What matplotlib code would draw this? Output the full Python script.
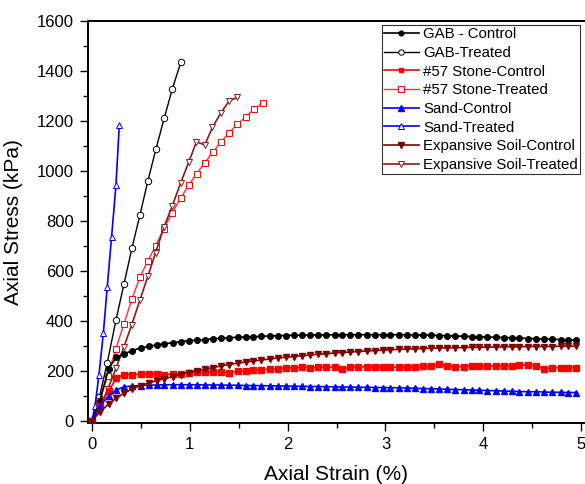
import matplotlib
matplotlib.use("Agg")
import matplotlib.pyplot as plt

plt.rcParams['font.family'] = ['Liberation Sans', 'DejaVu Sans']

# ---------------- data ----------------
strain_ctrl = [0.00, 0.08, 0.17, 0.25, 0.33, 0.41, 0.50, 0.58, 0.66, 0.74,
               0.83, 0.91, 0.99, 1.07, 1.16, 1.24, 1.32, 1.40, 1.49, 1.57,
               1.65, 1.73, 1.82, 1.90, 1.98, 2.06, 2.15, 2.23, 2.31, 2.39,
               2.48, 2.56, 2.64, 2.72, 2.81, 2.89, 2.97, 3.05, 3.14, 3.22,
               3.30, 3.38, 3.47, 3.55, 3.63, 3.71, 3.80, 3.88, 3.96, 4.04,
               4.13, 4.21, 4.29, 4.37, 4.46, 4.54, 4.62, 4.70, 4.79, 4.87,
               4.95]

gab_control = [0, 80, 210, 255, 268, 282, 292, 299, 304, 309,
               313, 318, 321, 324, 326, 329, 331, 333, 335, 336,
               337, 339, 340, 341, 342, 343, 343, 344, 344, 344,
               345, 345, 345, 345, 345, 345, 345, 345, 345, 345,
               344, 344, 343, 342, 341, 340, 339, 338, 337, 336,
               335, 334, 333, 332, 330, 329, 328, 327, 326, 324,
               323]

stone_control = [0, 60, 120, 172, 186, 186, 187, 188, 189, 186,
                 188, 189, 193, 195, 196, 198, 197, 193, 199, 201,
                 203, 205, 207, 209, 212, 213, 215, 213, 215, 216,
                 215, 208, 216, 217, 216, 217, 216, 217, 215, 217,
                 218, 219, 220, 228, 220, 216, 218, 221, 221, 220,
                 220, 221, 222, 225, 224, 220, 210, 213, 214, 214,
                 214]

sand_control = [0, 60, 100, 125, 137, 140, 142, 143, 144, 145,
                145, 145, 145, 145, 144, 144, 144, 143, 143, 142,
                142, 141, 141, 140, 140, 139, 139, 138, 138, 137,
                137, 136, 136, 135, 135, 134, 134, 133, 133, 132,
                131, 130, 129, 128, 127, 126, 125, 124, 123, 122,
                121, 120, 119, 118, 117, 117, 116, 115, 115, 114,
                114]

exp_control = [0, 36, 68, 92, 112, 128, 142, 152, 161, 170,
               178, 186, 194, 201, 208, 214, 220, 226, 231, 236,
               240, 244, 248, 252, 255, 258, 261, 264, 267, 269,
               272, 274, 276, 278, 280, 282, 284, 285, 287, 288,
               289, 290, 291, 292, 293, 293, 294, 295, 295, 296,
               296, 297, 297, 297, 298, 298, 298, 298, 299, 299,
               299]

gab_treated_x = [0.00, 0.075, 0.156, 0.245, 0.327, 0.408, 0.49, 0.571,
                 0.653, 0.738, 0.82, 0.908]
gab_treated_y = [0, 95, 233, 404, 548, 691, 824, 960, 1087, 1211, 1327, 1435]

stone_treated_x = [0.00, 0.075, 0.16, 0.245, 0.327, 0.41, 0.49, 0.57, 0.65,
                   0.735, 0.82, 0.905, 0.99, 1.07, 1.153, 1.235, 1.316, 1.40,
                   1.487, 1.571, 1.656, 1.748]
stone_treated_y = [0, 80, 180, 290, 390, 490, 575, 640, 700, 770, 833, 891,
                   944, 990, 1033, 1075, 1115, 1153, 1187, 1217, 1247, 1273]

sand_treated_x = [0.00, 0.031, 0.071, 0.116, 0.156, 0.20, 0.245, 0.279]
sand_treated_y = [0, 60, 184, 352, 537, 737, 944, 1184]

exp_treated_x = [0.00, 0.082, 0.164, 0.245, 0.327, 0.405, 0.49, 0.572, 0.65,
                 0.735, 0.82, 0.905, 0.99, 1.068, 1.153, 1.231, 1.316, 1.401,
                 1.487]
exp_treated_y = [0, 55, 130, 211, 297, 384, 484, 580, 673, 775, 860, 951,
                 1037, 1117, 1104, 1175, 1231, 1280, 1295]

labels = ["GAB - Control", "GAB-Treated", "#57 Stone-Control",
          "#57 Stone-Treated", "Sand-Control", "Sand-Treated",
          "Expansive Soil-Control", "Expansive Soil-Treated"]

# ---------------- figure ----------------
fig = plt.figure(figsize=(5.85, 4.84), dpi=100)
ax = fig.add_axes([88 / 585, 61 / 484, 1 - 88 / 585, (423 - 21) / 484])

black = '#000000'
red = '#ff0000'
red_light = '#ff3030'
blue = '#0000ff'
dred = '#800000'
dred_t = '#8b1a1a'

lw = 1.2
ms_f = 4.0
ms_o = 4.6

ax.plot(strain_ctrl, gab_control, color=black, lw=lw, marker='o', ms=ms_f,
        mfc=black, mec=black, label=labels[0], zorder=4)
ax.plot(gab_treated_x, gab_treated_y, color=black, lw=1.0, marker='o', ms=ms_o,
        mfc='white', mec=black, mew=0.7, label=labels[1], zorder=3)
ax.plot(strain_ctrl, stone_control, color=red, lw=lw, marker='s', ms=ms_f - 0.3,
        mfc=red, mec=red, label=labels[2], zorder=4)
ax.plot(stone_treated_x, stone_treated_y, color=red_light, lw=1.0, marker='s',
        ms=ms_o, mfc='white', mec=red, mew=0.7, label=labels[3], zorder=3)
ax.plot(strain_ctrl, sand_control, color=blue, lw=lw, marker='^', ms=ms_f + 0.4,
        mfc=blue, mec=blue, label=labels[4], zorder=4)
ax.plot(sand_treated_x, sand_treated_y, color=blue, lw=1.2, marker='^', ms=ms_o + 0.4,
        mfc='white', mec=blue, mew=0.7, label=labels[5], zorder=3)
ax.plot(strain_ctrl, exp_control, color=dred, lw=lw, marker='v', ms=ms_f + 0.4,
        mfc=dred, mec=dred, label=labels[6], zorder=4)
ax.plot(exp_treated_x, exp_treated_y, color=dred_t, lw=1.2, marker='v', ms=ms_o + 0.4,
        mfc='white', mec=dred_t, mew=0.7, label=labels[7], zorder=3)

ax.set_xlim(-0.041, 5.04)
ax.set_ylim(-8, 1600)
ax.set_xticks([0, 1, 2, 3, 4, 5])
ax.set_xticks([0.5, 1.5, 2.5, 3.5, 4.5], minor=True)
ax.set_yticks(range(0, 1601, 200))
ax.set_yticks(range(100, 1600, 200), minor=True)

for s in ['left', 'bottom', 'top']:
    ax.spines[s].set_linewidth(1.4)
ax.spines['right'].set_visible(False)

ax.tick_params(which='major', direction='out', length=5.8, width=1.0,
               labelsize=12, pad=4.5)
ax.tick_params(which='minor', direction='out', length=3.3, width=1.0)
ax.tick_params(top=False, right=False)

ax.set_xlabel("Axial Strain (%)", fontsize=15, labelpad=9)
ax.set_ylabel("Axial Stress (kPa)", fontsize=15, labelpad=10)

leg = ax.legend(loc='upper right', bbox_to_anchor=(580 / 585, 1 - 25 / 484),
                bbox_transform=fig.transFigure, borderaxespad=0,
                fontsize=10.8, frameon=True, fancybox=False, shadow=False,
                handlelength=2.3, handletextpad=0.3, labelspacing=0.31,
                borderpad=0.15, numpoints=1, markerscale=0.85)
leg.get_frame().set_edgecolor('black')
leg.get_frame().set_linewidth(0.8)

fig.savefig("out.png", dpi=100)
